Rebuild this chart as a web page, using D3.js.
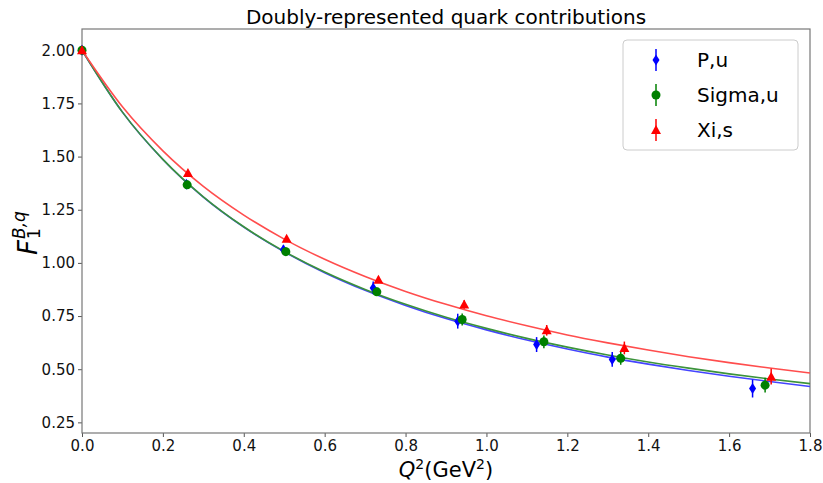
<!DOCTYPE html>
<html>
<head>
<meta charset="utf-8">
<script src="https://cdn.jsdelivr.net/npm/d3@7"></script>
<style>
  body { margin: 0; background: #fff; }
  text { font-family: "DejaVu Sans", sans-serif; }
</style>
</head>
<body>
<script>
// measured points, Q^2 in GeV^2
var puX = [0, 0.258, 0.498, 0.72, 0.929, 1.124, 1.311, 1.658];
var puY = [2.00, 1.37, 1.062, 0.882, 0.726, 0.616, 0.546, 0.409];
var puErr = [0.02, 0.02, 0.02, 0.03, 0.035, 0.035, 0.035, 0.042];

var suX = [0, 0.26, 0.504, 0.729, 0.94, 1.142, 1.332, 1.689];
var suY = [2.00, 1.367, 1.053, 0.864, 0.734, 0.629, 0.551, 0.425];
var suErr = [0.01, 0.02, 0.02, 0.02, 0.028, 0.03, 0.03, 0.035];

var xsX = [0, 0.262, 0.506, 0.733, 0.945, 1.149, 1.341, 1.704];
var xsY = [2.00, 1.423, 1.113, 0.921, 0.804, 0.683, 0.600, 0.465];
var xsErr = [0.01, 0.01, 0.012, 0.015, 0.02, 0.025, 0.03, 0.037];

// fit curves
var curveX = [0, 0.1, 0.2, 0.3, 0.4, 0.5, 0.6, 0.7, 0.8, 0.9, 1.0, 1.1, 1.2, 1.3, 1.4, 1.5, 1.6, 1.7, 1.8];
var puFit = [2.0, 1.709, 1.486, 1.309, 1.168, 1.052, 0.954, 0.871, 0.800, 0.738, 0.685, 0.637, 0.595, 0.557, 0.524, 0.494, 0.467, 0.442, 0.419];
var suFit = [2.0, 1.709, 1.487, 1.311, 1.170, 1.054, 0.957, 0.875, 0.805, 0.744, 0.692, 0.645, 0.604, 0.567, 0.534, 0.505, 0.478, 0.454, 0.432];
var xsFit = [2.0, 1.734, 1.527, 1.360, 1.225, 1.112, 1.017, 0.936, 0.866, 0.805, 0.751, 0.704, 0.661, 0.624, 0.590, 0.559, 0.531, 0.506, 0.482];

var xTicks = [0, 0.2, 0.4, 0.6, 0.8, 1.0, 1.2, 1.4, 1.6, 1.8];
var yTicks = [0.25, 0.50, 0.75, 1.00, 1.25, 1.50, 1.75, 2.00];

var svg = d3.select("body")
    .append("svg")
    .attr("width", 823)
    .attr("height", 483)
    .style("display", "block");

var margin = {top: 29, right: 13, bottom: 50, left: 82};
var width = 823 - margin.left - margin.right;
var height = 483 - margin.top - margin.bottom;
var g = svg.append("g").attr("transform", "translate(" + margin.left + "," + margin.top + ")");

var x = d3.scaleLinear().domain([0, 1.8]).range([0, width]);
var y = d3.scaleLinear().domain([0.2, 2.1]).range([height, 0]);

var xAxis = d3.axisBottom(x).tickValues(xTicks).tickFormat(d3.format(".1f")).tickSize(4).tickPadding(3);
var yAxis = d3.axisLeft(y).tickValues(yTicks).tickFormat(d3.format(".2f")).tickSize(4).tickPadding(3);

function styleAxis(sel) {
    sel.select(".domain").remove();
    sel.selectAll(".tick line").attr("stroke", "#555").attr("stroke-width", 1);
    sel.selectAll(".tick text").attr("fill", "#111").style("font-size", "15px").style("font-family", "DejaVu Sans");
}

g.append("g")
    .attr("transform", "translate(0," + height + ")")
    .call(xAxis)
    .call(styleAxis);

g.append("g")
    .call(yAxis)
    .call(styleAxis);

// frame
g.append("rect")
    .attr("x", 0).attr("y", 0)
    .attr("width", width).attr("height", height)
    .attr("fill", "none")
    .attr("stroke", "#777")
    .attr("stroke-width", 1.2);

var line = d3.line()
    .x(function(d) { return x(d[0]); })
    .y(function(d) { return y(d[1]); })
    .curve(d3.curveMonotoneX);

var fits = [
    {vals: puFit, color: "#4444ff"},
    {vals: suFit, color: "#3b933b"},
    {vals: xsFit, color: "#ff4d4d"}
];

fits.forEach(function(f) {
    g.append("path")
        .datum(d3.zip(curveX, f.vals))
        .attr("d", line)
        .attr("fill", "none")
        .attr("stroke", f.color)
        .attr("stroke-width", 1.6);
});

// marker shapes, drawn around the origin
function thinDiamond() { return "M0,-5.5L3.5,0L0,5.5L-3.5,0Z"; }
function circle() { return "M4.5,0A4.5,4.5 0 1 1 -4.5,0A4.5,4.5 0 1 1 4.5,0Z"; }
function triangle() { return "M0,-5L5,4L-5,4Z"; }

var series = [
    {name: "P,u", xs: puX, ys: puY, err: puErr, color: "#0000ff", shape: thinDiamond},
    {name: "Sigma,u", xs: suX, ys: suY, err: suErr, color: "#008000", shape: circle},
    {name: "Xi,s", xs: xsX, ys: xsY, err: xsErr, color: "#ff0000", shape: triangle}
];

series.forEach(function(s) {
    var pts = d3.zip(s.xs, s.ys, s.err);
    var grp = g.append("g");
    grp.selectAll("line")
        .data(pts)
        .enter()
        .append("line")
        .attr("x1", function(d) { return x(d[0]); })
        .attr("x2", function(d) { return x(d[0]); })
        .attr("y1", function(d) { return y(d[1] - d[2]); })
        .attr("y2", function(d) { return y(d[1] + d[2]); })
        .attr("stroke", s.color)
        .attr("stroke-width", 1.5);
    grp.selectAll("path")
        .data(pts)
        .enter()
        .append("path")
        .attr("transform", function(d) { return "translate(" + x(d[0]) + "," + y(d[1]) + ")"; })
        .attr("d", s.shape)
        .attr("fill", s.color);
});

// title
svg.append("text")
    .attr("x", 446)
    .attr("y", 24)
    .attr("text-anchor", "middle")
    .style("font-size", "20px")
    .text("Doubly-represented quark contributions");

// x label
var xl = svg.append("text")
    .attr("x", 446)
    .attr("y", 477)
    .attr("text-anchor", "middle")
    .style("font-size", "21px");
xl.append("tspan").style("font-style", "italic").text("Q");
xl.append("tspan").attr("dy", -8).style("font-size", "14px").text("2");
xl.append("tspan").attr("dy", 8).text("(GeV");
xl.append("tspan").attr("dy", -8).style("font-size", "14px").text("2");
xl.append("tspan").attr("dy", 8).text(")");

// y label
var yl = svg.append("g").attr("transform", "translate(37,255) rotate(-90)");
yl.append("text").attr("x", 0).attr("y", 0)
    .style("font-size", "26px").style("font-style", "italic").text("F");
yl.append("text").attr("x", 16).attr("y", -12)
    .style("font-size", "17px").style("font-style", "italic").text("B,q");
yl.append("text").attr("x", 16).attr("y", 3)
    .style("font-size", "17px").text("1");

// legend
var leg = svg.append("g").attr("transform", "translate(623,40)");
leg.append("rect")
    .attr("width", 175).attr("height", 110)
    .attr("rx", 4)
    .attr("fill", "#fff").attr("fill-opacity", 0.8)
    .attr("stroke", "#ccc");

var items = leg.selectAll(".item")
    .data(series)
    .enter()
    .append("g")
    .attr("transform", function(d, i) { return "translate(0," + (20 + i * 35) + ")"; });

items.append("line")
    .attr("x1", 33).attr("x2", 33)
    .attr("y1", -11).attr("y2", 11)
    .attr("stroke", function(d) { return d.color; })
    .attr("stroke-width", 1.5);
items.append("path")
    .attr("transform", "translate(33,0)")
    .attr("d", function(d) { return d.shape(); })
    .attr("fill", function(d) { return d.color; });
items.append("text")
    .attr("x", 74)
    .attr("y", 7)
    .style("font-size", "20px")
    .text(function(d) { return d.name; });
</script>
</body>
</html>
